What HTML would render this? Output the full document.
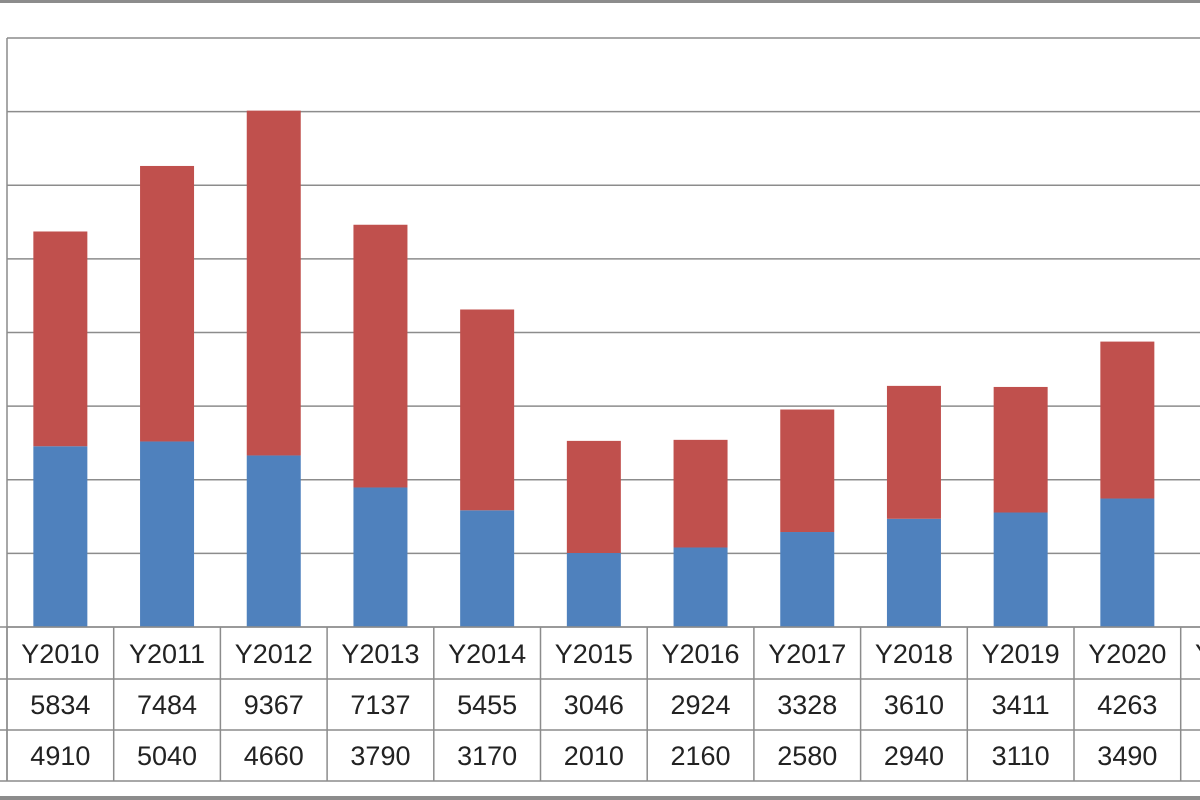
<!DOCTYPE html>
<html><head><meta charset="utf-8"><style>
html,body{margin:0;padding:0;background:#fff;width:1200px;height:800px;overflow:hidden;font-family:"Liberation Sans",sans-serif}
</style></head><body>
<svg id="chart" width="1200" height="800" xmlns="http://www.w3.org/2000/svg"></svg>
<script>
const categories=["Y2010","Y2011","Y2012","Y2013","Y2014","Y2015","Y2016","Y2017","Y2018","Y2019","Y2020","Y2021"];
const redSeries=[5834,7484,9367,7137,5455,3046,2924,3328,3610,3411,4263,4000];
const blueSeries=[4910,5040,4660,3790,3170,2010,2160,2580,2940,3110,3490,3500];
const yTicks=[0,2000,4000,6000,8000,10000,12000,14000,16000];
const NS="http://www.w3.org/2000/svg";
const svgEl=document.getElementById("chart");
const plotLeft=7,plotTop=38,plotBottom=627,colStep=106.7,yMax=16000;
const yScale=v=>plotBottom-(v/yMax)*(plotBottom-plotTop);
const xc=i=>plotLeft+colStep*i+colStep/2;
function mk(t,a){const e=document.createElementNS(NS,t);for(const k in a)e.setAttribute(k,a[k]);svgEl.appendChild(e);return e;}
let el=mk("rect",{x:0,y:0,width:1200,height:3,fill:"#8c8c8c"});


yTicks.forEach(t=>{const g=mk("line",{x1:plotLeft,x2:1200,y1:yScale(t),y2:yScale(t),stroke:"#8c8c8c","stroke-width":1.5});

});
el=mk("line",{x1:plotLeft,x2:plotLeft,y1:plotTop,y2:781,stroke:"#8c8c8c","stroke-width":1.5});


categories.forEach((c,i)=>{
const bw=54,bx=xc(i)-bw/2;
const b=mk("rect",{x:bx,y:yScale(blueSeries[i]),width:bw,height:plotBottom-yScale(blueSeries[i]),fill:"#4F81BD"});


const r=mk("rect",{x:bx,y:yScale(blueSeries[i]+redSeries[i]),width:bw,height:yScale(blueSeries[i])-yScale(blueSeries[i]+redSeries[i]),fill:"#C0504D"});


});
const rowLines=[627,679,730,781];
rowLines.forEach(ry=>{const l=mk("line",{x1:0,x2:1200,y1:ry,y2:ry,stroke:"#8c8c8c","stroke-width":1.5});

});
for(let i=0;i<=categories.length;i++){const l=mk("line",{x1:plotLeft+colStep*i,x2:plotLeft+colStep*i,y1:627,y2:781,stroke:"#8c8c8c","stroke-width":1.5});

}
function txt(s,x,yy,name){const t=mk("text",{x:x,y:yy,"text-anchor":"middle","font-size":27,fill:"#222","font-family":"Liberation Sans, sans-serif"});t.textContent=s;

}
categories.forEach((c,i)=>{txt(c,xc(i),663,'category-label');txt(String(redSeries[i]),xc(i),714,'red-value');txt(String(blueSeries[i]),xc(i),765,'blue-value');});
el=mk("rect",{x:0,y:796,width:1200,height:4,fill:"#8c8c8c"});


</script>
</body></html>
